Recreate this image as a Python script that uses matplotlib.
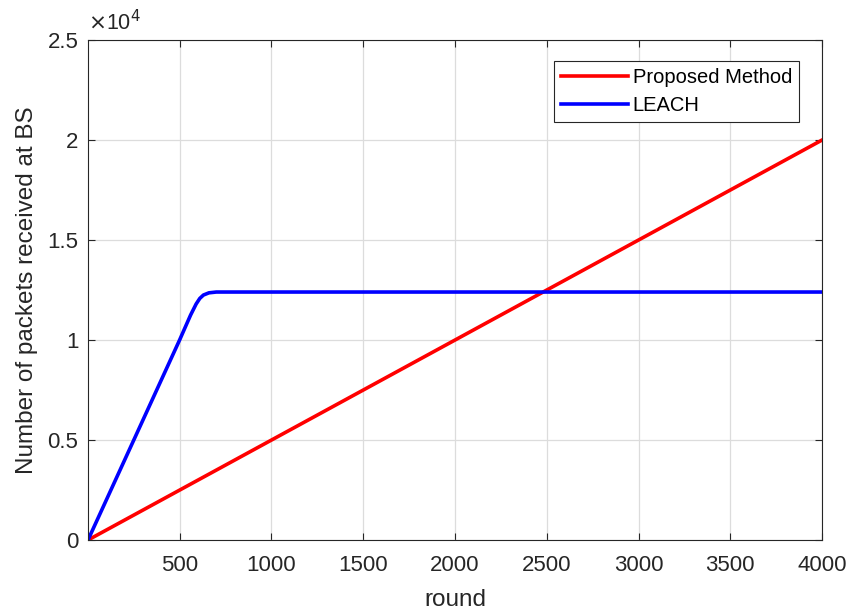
# Packets received at BS per round: Proposed Method vs LEACH

import matplotlib.pyplot as plt
from matplotlib.ticker import FuncFormatter

# Proposed method grows linearly up to 2e4 packets
proposed_rounds = [1, 4000]
proposed_packets = [0, 20000]

# LEACH rises fast then saturates once nodes die
leach_rounds = [1, 500, 560, 590, 610, 630, 660, 700, 4000]
leach_packets = [0, 10000, 11250, 11800, 12080, 12250, 12360, 12400, 12400]

x_ticks = [500, 1000, 1500, 2000, 2500, 3000, 3500, 4000]
y_ticks = [0, 5000, 10000, 15000, 20000, 25000]


def main():
    plt.rcParams["font.family"] = ["Liberation Sans", "DejaVu Sans"]
    fig = plt.figure(figsize=(8.51, 6.12), dpi=100)
    ax = fig.add_axes([0.1034, 0.1176, 0.8626, 0.817])

    ax.plot(proposed_rounds, proposed_packets, color="#ff0000", lw=2.6,
            label="Proposed Method")
    ax.plot(leach_rounds, leach_packets, color="#0000ff", lw=2.6,
            label="LEACH")

    ax.set_xlim(1, 4000)
    ax.set_ylim(0, 25000)
    ax.set_xticks(x_ticks)
    ax.set_yticks(y_ticks)
    ax.yaxis.set_major_formatter(FuncFormatter(lambda v, p: "%g" % (v / 1e4)))

    grey = "#262626"
    ax.tick_params(direction="in", length=5, labelsize=16, colors=grey,
                   top=True, right=True)
    ax.tick_params(axis="x", pad=11)
    ax.tick_params(axis="y", pad=7)
    for s in ax.spines.values():
        s.set_color(grey)
        s.set_linewidth(0.8)
    ax.grid(True, color="#dcdcdc", lw=0.9)
    ax.set_axisbelow(True)

    ax.set_xlabel("round", fontsize=17.5, color=grey, labelpad=9)
    ax.set_ylabel("Number of packets received at BS", fontsize=17.5,
                  color=grey, labelpad=7)
    ax.text(0.0, 1.01, "$\\times$10$^4$", transform=ax.transAxes,
            fontsize=15.5, color=grey, ha="left", va="bottom")

    leg = ax.legend(loc="upper right", bbox_to_anchor=(0.9687, 0.958),
                    borderaxespad=0, fontsize=14.5, fancybox=False,
                    framealpha=1, edgecolor=grey, handlelength=3.3,
                    borderpad=0.35, labelspacing=0.45, handletextpad=0.25)
    leg.get_frame().set_linewidth(0.8)

    fig.savefig("out.png", dpi=100)
    plt.close(fig)


if __name__ == "__main__":
    main()
